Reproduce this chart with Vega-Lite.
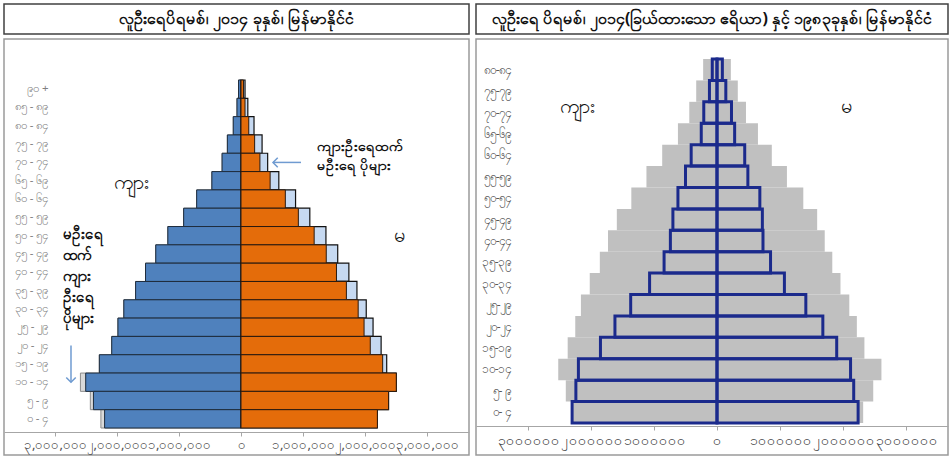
{
  "$schema": "https://vega.github.io/schema/vega-lite/v6.json",
  "padding": {"left": 3, "top": 3, "right": 0, "bottom": 0},
  "background": "white",
  "config": {"view": {"stroke": null}, "font": "Noto Sans"},
  "datasets": {
    "pyr2014": [
      {"age": "၉၀ +", "male_total": -40000, "male_bar": -40000, "female_bar": 40000, "female_total": 65000},
      {"age": "၈၅ - ၈၉", "male_total": -65000, "male_bar": -65000, "female_bar": 65000, "female_total": 110000},
      {"age": "၈၀ - ၈၄", "male_total": -125000, "male_bar": -125000, "female_bar": 125000, "female_total": 210000},
      {"age": "၇၅ - ၇၉", "male_total": -220000, "male_bar": -220000, "female_bar": 220000, "female_total": 340000},
      {"age": "၇၀ - ၇၄", "male_total": -305000, "male_bar": -305000, "female_bar": 305000, "female_total": 430000},
      {"age": "၆၅ - ၆၉", "male_total": -470000, "male_bar": -470000, "female_bar": 470000, "female_total": 610000},
      {"age": "၆၀ - ၆၄", "male_total": -715000, "male_bar": -715000, "female_bar": 715000, "female_total": 880000},
      {"age": "၅၅ - ၅၉", "male_total": -925000, "male_bar": -925000, "female_bar": 925000, "female_total": 1110000},
      {"age": "၅၀ - ၅၄", "male_total": -1180000, "male_bar": -1180000, "female_bar": 1180000, "female_total": 1370000},
      {"age": "၄၅ - ၄၉", "male_total": -1375000, "male_bar": -1375000, "female_bar": 1375000, "female_total": 1560000},
      {"age": "၄၀ - ၄၄", "male_total": -1540000, "male_bar": -1540000, "female_bar": 1540000, "female_total": 1740000},
      {"age": "၃၅ - ၃၉", "male_total": -1700000, "male_bar": -1700000, "female_bar": 1700000, "female_total": 1870000},
      {"age": "၃၀ - ၃၄", "male_total": -1890000, "male_bar": -1890000, "female_bar": 1890000, "female_total": 2020000},
      {"age": "၂၅ - ၂၉", "male_total": -1985000, "male_bar": -1985000, "female_bar": 1985000, "female_total": 2130000},
      {"age": "၂၀ - ၂၄", "male_total": -2085000, "male_bar": -2085000, "female_bar": 2085000, "female_total": 2260000},
      {"age": "၁၅ - ၁၉", "male_total": -2285000, "male_bar": -2285000, "female_bar": 2285000, "female_total": 2350000},
      {"age": "၁၀ - ၁၄", "male_total": -2590000, "male_bar": -2505000, "female_bar": 2505000, "female_total": 2505000},
      {"age": "၅ - ၉", "male_total": -2430000, "male_bar": -2380000, "female_bar": 2380000, "female_total": 2380000},
      {"age": "၀ - ၄", "male_total": -2260000, "male_bar": -2200000, "female_bar": 2200000, "female_total": 2200000}
    ],
    "pyr1983": [
      {"age": "၈၀-၈၄", "m2014": -220000, "f2014": 220000, "m1983": -75000, "f1983": 85000},
      {"age": "၇၅-၇၉", "m2014": -330000, "f2014": 330000, "m1983": -120000, "f1983": 140000},
      {"age": "၇၀-၇၄", "m2014": -440000, "f2014": 460000, "m1983": -210000, "f1983": 230000},
      {"age": "၆၅-၆၉", "m2014": -620000, "f2014": 650000, "m1983": -250000, "f1983": 280000},
      {"age": "၆၀-၆၄", "m2014": -870000, "f2014": 870000, "m1983": -410000, "f1983": 440000},
      {"age": "၅၅-၅၉", "m2014": -1120000, "f2014": 1110000, "m1983": -500000, "f1983": 490000},
      {"age": "၅၀-၅၄", "m2014": -1360000, "f2014": 1370000, "m1983": -620000, "f1983": 680000},
      {"age": "၄၅-၄၉", "m2014": -1590000, "f2014": 1590000, "m1983": -700000, "f1983": 720000},
      {"age": "၄၀-၄၄", "m2014": -1730000, "f2014": 1710000, "m1983": -740000, "f1983": 730000},
      {"age": "၃၅-၃၉", "m2014": -1860000, "f2014": 1830000, "m1983": -840000, "f1983": 850000},
      {"age": "၃၀-၃၄", "m2014": -2020000, "f2014": 1960000, "m1983": -1070000, "f1983": 1070000},
      {"age": "၂၅-၂၉", "m2014": -2160000, "f2014": 2100000, "m1983": -1370000, "f1983": 1410000},
      {"age": "၂၀-၂၄", "m2014": -2250000, "f2014": 2220000, "m1983": -1620000, "f1983": 1680000},
      {"age": "၁၅-၁၉", "m2014": -2370000, "f2014": 2340000, "m1983": -1850000, "f1983": 1900000},
      {"age": "၁၀-၁၄", "m2014": -2520000, "f2014": 2610000, "m1983": -2200000, "f1983": 2120000},
      {"age": "၅- ၉", "m2014": -2400000, "f2014": 2480000, "m1983": -2240000, "f1983": 2170000},
      {"age": "၀- ၄", "m2014": -2300000, "f2014": 2320000, "m1983": -2300000, "f1983": 2240000}
    ]
  },
  "spacing": 5,
  "hconcat": [
    {
      "spacing": 3,
      "vconcat": [
        {
          "width": 465, "height": 30,
          "view": {"stroke": "#404040", "strokeWidth": 1.5},
          "data": {"values": [{"t": "လူဦးရေပိရမစ်၊ ၂၀၁၄ ခုနှစ်၊ မြန်မာနိုင်ငံ"}]},
          "mark": {"type": "text", "fontSize": 16, "fontWeight": "bold", "color": "#111111"},
          "encoding": {"text": {"field": "t"}}
        },
        {
          "width": 465, "height": 416,
          "view": {"stroke": "#9a9a9a", "strokeWidth": 1.5},
          "data": {"name": "pyr2014"},
          "encoding": {
            "y": {
              "field": "age", "type": "nominal",
              "scale": {
                "domain": ["၉၀ +", "၈၅ - ၈၉", "၈၀ - ၈၄", "၇၅ - ၇၉", "၇၀ - ၇၄", "၆၅ - ၆၉", "၆၀ - ၆၄", "၅၅ - ၅၉", "၅၀ - ၅၄", "၄၅ - ၄၉", "၄၀ - ၄၄", "၃၅ - ၃၉", "၃၀ - ၃၄", "၂၅ - ၂၉", "၂၀ - ၂၄", "၁၅ - ၁၉", "၁၀ - ၁၄", "၅ - ၉", "၀ - ၄"],
                "paddingInner": 0, "paddingOuter": 0, "range": [41, 389]
              },
              "axis": {"title": null, "domain": false, "ticks": false, "tickSize": 0, "offset": -44, "labelPadding": 0, "labelColor": "#7f7f7f", "labelFontSize": 11.5, "labelBound": false, "labelOverlap": false}
            }
          },
          "layer": [
            {
              "mark": {"type": "bar", "fill": "#d9d9d9", "stroke": "#8c8c8c", "strokeWidth": 1},
              "encoding": {
                "x": {"field": "male_total", "type": "quantitative",
                  "scale": {"domain": [-3822581, 3677419], "nice": false, "zero": false},
                  "axis": {"values": [-3000000, -2000000, -1000000, 0, 1000000, 2000000, 3000000],
                    "labelExpr": "datum.value == 0 ? '၀' : (abs(datum.value) == 1000000 ? '၁,၀၀၀,၀၀၀' : (abs(datum.value) == 2000000 ? '၂,၀၀၀,၀၀၀' : '၃,၀၀၀,၀၀၀'))",
                    "title": null, "grid": false, "offset": -23, "domainColor": "#a6a6a6", "tickColor": "#a6a6a6", "tickSize": 4,
                    "labelColor": "#4d4d4d", "labelFontSize": 13, "labelPadding": 2, "labelOverlap": false, "labelFlush": false, "labelBound": false}},
                "x2": {"datum": 0}
              }
            },
            {
              "mark": {"type": "bar", "fill": "#4f81bd", "stroke": "#1f2d3d", "strokeWidth": 1},
              "encoding": {
                "x": {"field": "male_bar", "type": "quantitative", "scale": {"domain": [-3822581, 3677419], "nice": false, "zero": false}},
                "x2": {"datum": 0}
              }
            },
            {
              "mark": {"type": "bar", "fill": "#c6d9f1", "stroke": "#111111", "strokeWidth": 1.2},
              "encoding": {
                "x": {"field": "female_total", "type": "quantitative", "scale": {"domain": [-3822581, 3677419], "nice": false, "zero": false}},
                "x2": {"datum": 0}
              }
            },
            {
              "mark": {"type": "bar", "fill": "#e46c0a", "stroke": "#2a1a10", "strokeWidth": 1},
              "encoding": {
                "x": {"field": "female_bar", "type": "quantitative", "scale": {"domain": [-3822581, 3677419], "nice": false, "zero": false}},
                "x2": {"datum": 0}
              }
            },
            {
              "data": {"values": [{}]},
              "mark": {"type": "text", "fontSize": 20, "color": "#111111"},
              "encoding": {"x": {"datum": -1770000}, "y": {"datum": "၆၅ - ၆၉", "bandPosition": 0.65}, "text": {"value": "ကျား"}}
            },
            {
              "data": {"values": [{}]},
              "mark": {"type": "text", "fontSize": 20, "color": "#111111"},
              "encoding": {"x": {"datum": 2560000}, "y": {"datum": "၅၀ - ၅၄"}, "text": {"value": "မ"}}
            },
            {
              "data": {"values": [{}]},
              "mark": {"type": "text", "fontSize": 15, "fontWeight": "bold", "color": "#111111", "align": "left", "baseline": "top", "lineHeight": 21},
              "encoding": {"x": {"datum": -2871000}, "y": {"datum": "၅၀ - ၅၄", "bandPosition": 0}, "text": {"value": ["မဦးရေ", "ထက်", "ကျား", "ဦးရေ", "ပိုများ"]}}
            },
            {
              "data": {"values": [{}]},
              "mark": {"type": "text", "fontSize": 14, "fontWeight": "bold", "color": "#111111", "align": "left", "baseline": "top", "lineHeight": 19},
              "encoding": {"x": {"datum": 1226000}, "y": {"datum": "၇၅ - ၇၉", "bandPosition": 0.3}, "text": {"value": ["ကျားဦးရေထက်", "မဦးရေ ပိုများ"]}}
            },
            {
              "data": {"values": [{}]},
              "mark": {"type": "rule", "color": "#6f9bd1", "strokeWidth": 1.5},
              "encoding": {"x": {"datum": -2742000}, "y": {"datum": "၂၀ - ၂၄"}, "y2": {"datum": "၁၀ - ၁၄"}}
            },
            {
              "data": {"values": [{}]},
              "mark": {"type": "point", "shape": "M-1,-1L0,0L1,-1", "filled": false, "size": 90, "color": "#6f9bd1", "strokeWidth": 1.5, "opacity": 1},
              "encoding": {"x": {"datum": -2742000}, "y": {"datum": "၁၀ - ၁၄"}}
            },
            {
              "data": {"values": [{}]},
              "mark": {"type": "rule", "color": "#6f9bd1", "strokeWidth": 1.5},
              "encoding": {"x": {"datum": 968000}, "x2": {"datum": 516000}, "y": {"datum": "၇၀ - ၇၄"}}
            },
            {
              "data": {"values": [{}]},
              "mark": {"type": "point", "shape": "M1,-1L0,0L1,1", "filled": false, "size": 90, "color": "#6f9bd1", "strokeWidth": 1.5, "opacity": 1},
              "encoding": {"x": {"datum": 516000}, "y": {"datum": "၇၀ - ၇၄"}}
            }
          ]
        }
      ]
    },
    {
      "spacing": 3,
      "vconcat": [
        {
          "width": 472, "height": 30,
          "view": {"stroke": "#404040", "strokeWidth": 1.5},
          "data": {"values": [{"t": "လူဦးရေ ပိရမစ်၊ ၂၀၁၄(ခြယ်ထားသော ဧရိယာ) နှင့် ၁၉၈၃ခုနှစ်၊ မြန်မာနိုင်ငံ"}]},
          "mark": {"type": "text", "fontSize": 16, "fontWeight": "bold", "color": "#111111"},
          "encoding": {"text": {"field": "t"}}
        },
        {
          "width": 472, "height": 416,
          "view": {"stroke": "#9a9a9a", "strokeWidth": 1.5},
          "data": {"name": "pyr1983"},
          "encoding": {
            "y": {
              "field": "age", "type": "nominal",
              "scale": {
                "domain": ["၈၀-၈၄", "၇၅-၇၉", "၇၀-၇၄", "၆၅-၆၉", "၆၀-၆၄", "၅၅-၅၉", "၅၀-၅၄", "၄၅-၄၉", "၄၀-၄၄", "၃၅-၃၉", "၃၀-၃၄", "၂၅-၂၉", "၂၀-၂၄", "၁၅-၁၉", "၁၀-၁၄", "၅- ၉", "၀- ၄"],
                "paddingInner": 0, "paddingOuter": 0, "range": [20, 384]
              },
              "axis": {"title": null, "domain": false, "ticks": false, "tickSize": 0, "offset": -35, "labelPadding": 0, "labelColor": "#595959", "labelFontSize": 12, "labelBound": false, "labelOverlap": false}
            }
          },
          "layer": [
            {
              "mark": {"type": "bar", "fill": "#c0c0c0"},
              "encoding": {
                "x": {"field": "m2014", "type": "quantitative",
                  "scale": {"domain": [-3825397, 3666667], "nice": false, "zero": false},
                  "axis": {"values": [-3000000, -2000000, -1000000, 0, 1000000, 2000000, 3000000],
                    "labelExpr": "datum.value == 0 ? '၀' : (abs(datum.value) == 1000000 ? '၁၀၀၀၀၀၀' : (abs(datum.value) == 2000000 ? '၂၀၀၀၀၀၀' : '၃၀၀၀၀၀၀'))",
                    "title": null, "grid": false, "offset": -29, "domainColor": "#a6a6a6", "tickColor": "#a6a6a6", "tickSize": 4,
                    "labelColor": "#404040", "labelFontSize": 14, "labelPadding": 3, "labelOverlap": false, "labelFlush": false, "labelBound": false}},
                "x2": {"datum": 0}
              }
            },
            {
              "mark": {"type": "bar", "fill": "#c0c0c0"},
              "encoding": {
                "x": {"field": "f2014", "type": "quantitative", "scale": {"domain": [-3825397, 3666667], "nice": false, "zero": false}},
                "x2": {"datum": 0}
              }
            },
            {
              "mark": {"type": "bar", "fill": "transparent", "stroke": "#1b2a8c", "strokeWidth": 3},
              "encoding": {
                "x": {"field": "m1983", "type": "quantitative", "scale": {"domain": [-3825397, 3666667], "nice": false, "zero": false}},
                "x2": {"datum": 0}
              }
            },
            {
              "mark": {"type": "bar", "fill": "transparent", "stroke": "#1b2a8c", "strokeWidth": 3},
              "encoding": {
                "x": {"field": "f1983", "type": "quantitative", "scale": {"domain": [-3825397, 3666667], "nice": false, "zero": false}},
                "x2": {"datum": 0}
              }
            },
            {
              "data": {"values": [{}]},
              "mark": {"type": "text", "fontSize": 20, "color": "#111111"},
              "encoding": {"x": {"datum": -2210000}, "y": {"datum": "၇၀-၇၄", "bandPosition": 0.25}, "text": {"value": "ကျား"}}
            },
            {
              "data": {"values": [{}]},
              "mark": {"type": "text", "fontSize": 20, "color": "#111111"},
              "encoding": {"x": {"datum": 2050000}, "y": {"datum": "၇၀-၇၄", "bandPosition": 0.25}, "text": {"value": "မ"}}
            }
          ]
        }
      ]
    }
  ]
}
